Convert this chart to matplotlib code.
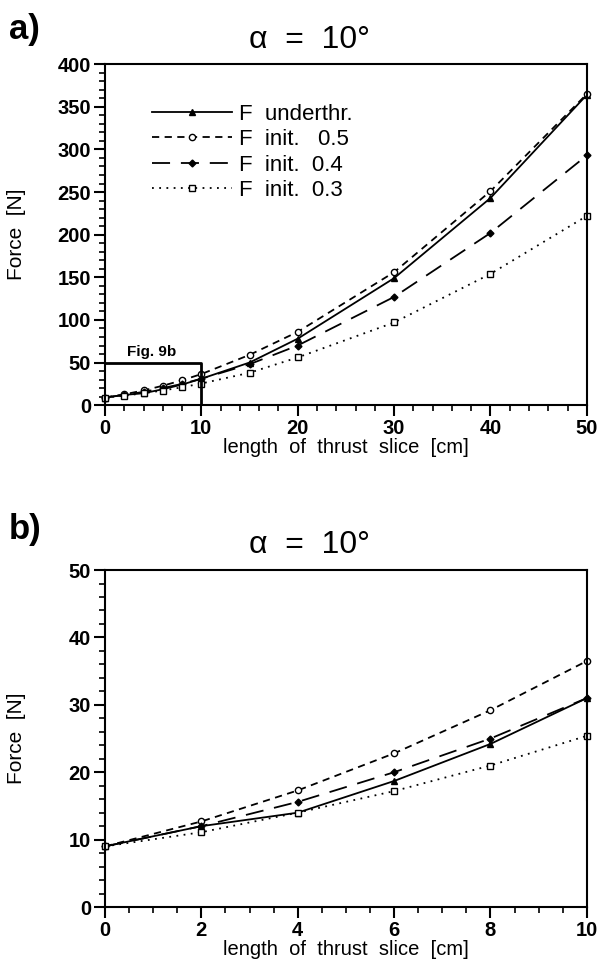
import matplotlib.pyplot as plt
import matplotlib.ticker as mticker

plt.rcParams['font.family'] = ['Liberation Sans', 'DejaVu Sans']

# -------------------------- Data --------------------------
# panel a) full range
x_a = [0, 2, 4, 6, 8, 10, 15, 20, 30, 40, 50]
under_a = [9, 12, 14, 18.7, 24.2, 31, 50, 78, 149, 243, 364]
init05_a = [9, 12.7, 17.3, 22.8, 29.2, 36.5, 59, 86, 156, 251, 365]
init04_a = [9, 12, 15.6, 20, 25, 31, 48, 70, 127, 202, 293]
init03_a = [9, 11.1, 14, 17.2, 21, 25.4, 38, 56, 97, 154, 222]

# panel b) zoom to first 10 cm
x_b = [0, 2, 4, 6, 8, 10]
under_b = [9, 12, 14, 18.7, 24.2, 31]
init05_b = [9, 12.7, 17.3, 22.8, 29.2, 36.5]
init04_b = [9, 12, 15.6, 20, 25, 31]
init03_b = [9, 11.1, 14, 17.2, 21, 25.4]

labels = ['F  underthr.', 'F  init.   0.5', 'F  init.  0.4', 'F  init.  0.3']

# -------------------------- Styles --------------------------
styles = [
    dict(color='black', lw=1.3, ls='-', marker='^', ms=4.5, mfc='black'),
    dict(color='black', lw=1.3, ls=(0, (4, 3)), marker='o', ms=4.5, mfc='white'),
    dict(color='black', lw=1.3, ls=(0, (10, 6)), marker='D', ms=3.5, mfc='black'),
    dict(color='black', lw=1.3, ls=(0, (1, 3)), marker='s', ms=4.5, mfc='white'),
]

fig = plt.figure(figsize=(6, 9.67), dpi=100)
ax1 = fig.add_axes([0.175, 0.581, 0.803, 0.3526])
ax2 = fig.add_axes([0.175, 0.062, 0.803, 0.3485])


def style_axes(ax, xmax, ymax, xmaj, xmin, ymaj, ymin):
    ax.set_xlim(0, xmax)
    ax.set_ylim(0, ymax)
    ax.xaxis.set_major_locator(mticker.MultipleLocator(xmaj))
    ax.xaxis.set_minor_locator(mticker.MultipleLocator(xmin))
    ax.yaxis.set_major_locator(mticker.MultipleLocator(ymaj))
    ax.yaxis.set_minor_locator(mticker.MultipleLocator(ymin))
    ax.tick_params(which='major', direction='out', length=8, width=1.5,
                   labelsize=14.5)
    ax.tick_params(axis='x', which='major', pad=2)
    ax.tick_params(axis='y', which='major', pad=2)
    ax.tick_params(which='minor', direction='out', length=4, width=1.2)
    for lab in ax.get_xticklabels() + ax.get_yticklabels():
        lab.set_fontweight('bold')
    for s in ax.spines.values():
        s.set_linewidth(1.5)
    ax.set_xlabel('length  of  thrust  slice  [cm]', fontsize=14.5, labelpad=0)
    ax.set_ylabel('Force  [N]', fontsize=15)
    ax.yaxis.set_label_coords(-0.165, 0.5)


# -------------------------- Panel a --------------------------
series_a = [under_a, init05_a, init04_a, init03_a]
for y, st, lab in zip(series_a, styles, labels):
    ax1.plot(x_a, y, label=lab, clip_on=False, **st)
style_axes(ax1, 50, 400, 10, 2, 50, 10)
ax1.plot([0, 10, 10], [50, 50, 0], color='black', lw=2)
ax1.text(2.3, 58, 'Fig. 9b', fontsize=11, fontweight='bold')
leg = ax1.legend(loc='upper left', bbox_to_anchor=(0.08, 0.91), frameon=False,
                 fontsize=16, handlelength=3.6, handletextpad=0.3,
                 labelspacing=0.2, borderaxespad=0)
ax1.set_title('α  =  10°', fontsize=23, pad=12, x=0.425)
fig.text(0.015, 0.96, 'a)', fontsize=25, fontweight='bold')

# -------------------------- Panel b --------------------------
series_b = [under_b, init05_b, init04_b, init03_b]
for y, st in zip(series_b, styles):
    ax2.plot(x_b, y, clip_on=False, **st)
style_axes(ax2, 10, 50, 2, 0.5, 10, 2)
ax2.plot([10, 10], [16, 31], color='black', lw=2.2)
ax2.set_title('α  =  10°', fontsize=23, pad=12, x=0.425)
fig.text(0.015, 0.443, 'b)', fontsize=25, fontweight='bold')

fig.savefig('out.png', dpi=100)
